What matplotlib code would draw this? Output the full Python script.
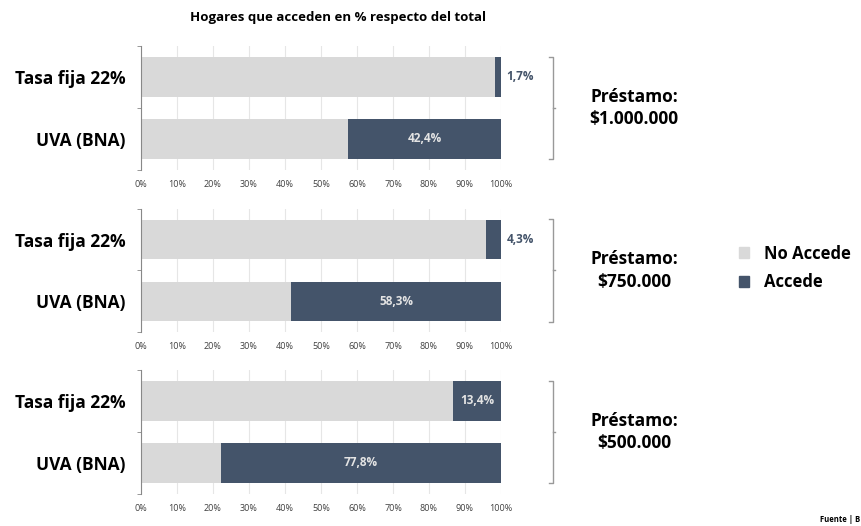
import numpy as np
import matplotlib
matplotlib.use("Agg")
import matplotlib.pyplot as plt
from matplotlib.patches import Patch
import matplotlib.transforms as mtransforms

plt.rcParams["font.family"] = ["Open Sans", "DejaVu Sans"]

# datos
prestamos = ["$1.000.000", "$750.000", "$500.000"]
categorias = ["Tasa fija 22%", "UVA (BNA)"]
no_accede = [[98.3, 57.6], [95.7, 41.7], [86.6, 22.2]]
accede = [[1.7, 42.4], [4.3, 58.3], [13.4, 77.8]]
etiquetas = [["1,7%", "42,4%"], ["4,3%", "58,3%"], ["13,4%", "77,8%"]]
xticks = np.arange(0, 101, 10)

GRIS = "#D9D9D9"
AZUL = "#44546A"
W, H = 861, 526

fig = plt.figure(figsize=(W / 100, H / 100), dpi=100)

# posiciones de los paneles en pixeles (top, bottom)
paneles = [(46, 170), (209, 332), (370, 494)]
x0, x1 = 141, 501

for i, (top, bot) in enumerate(paneles):
    ax = fig.add_axes([x0 / W, 1 - bot / H, (x1 - x0) / W, (bot - top) / H])
    y = np.arange(len(categorias))
    ax.barh(y, no_accede[i], height=0.64, color=GRIS, zorder=2)
    ax.barh(y, accede[i], left=no_accede[i], height=0.64, color=AZUL, zorder=2)

    for j in range(len(categorias)):
        v = accede[i][j]
        if v < 10:
            ax.text(100 + 1.5, j, etiquetas[i][j], ha="left", va="center",
                    fontsize=8.5, fontweight="bold", color=AZUL)
        else:
            ax.text(no_accede[i][j] + v / 2, j, etiquetas[i][j], ha="center",
                    va="center", fontsize=8.5, fontweight="bold", color="#E4E4E4")

    ax.set_xlim(0, 100)
    ax.set_ylim(1.5, -0.5)
    ax.set_xticks(xticks)
    ax.set_xticklabels([f"{t}%" for t in xticks], fontsize=6.5, color="#404040")
    ax.tick_params(axis="x", length=0, pad=7)
    ax.set_yticks(y)
    ax.set_yticklabels(categorias, fontsize=12.5, fontweight="bold")
    ax.tick_params(axis="y", length=0, pad=11)
    ax.set_yticks([-0.5, 0.5, 1.5], minor=True)
    ax.tick_params(axis="y", which="minor", length=3, color="#888888")
    ax.grid(axis="x", color="#E6E6E6", linewidth=0.8, zorder=0)
    for s in ["top", "right", "bottom"]:
        ax.spines[s].set_visible(False)
    ax.spines["left"].set_color("#888888")

    # llave a la derecha
    tr = mtransforms.blended_transform_factory(ax.transAxes, ax.transData)
    bx = (553 - x0) / (x1 - x0)
    dx = 4 / (x1 - x0)
    ax.plot([bx - dx, bx, bx, bx - dx], [-0.33, -0.33, 1.33, 1.33], transform=tr,
            color="#999999", linewidth=1, clip_on=False)
    ax.plot([bx, bx + dx * 0.6], [0.5, 0.5], transform=tr, color="#999999",
            linewidth=1, clip_on=False)
    ax.text((634 - x0) / (x1 - x0), 0.5, f"Préstamo:\n{prestamos[i]}", transform=tr,
            ha="center", va="center", fontsize=12.5, fontweight="bold",
            linespacing=1.3)

fig.text(338 / W, 1 - 18 / H, "Hogares que acceden en % respecto del total",
         ha="center", va="center", fontsize=9.5, fontweight="bold")

handles = [Patch(color=GRIS, label="No Accede"), Patch(color=AZUL, label="Accede")]
fig.legend(handles=handles, loc="center left", bbox_to_anchor=(724 / W, 1 - 268 / H),
           frameon=False, prop={"size": 12, "weight": "bold"}, handlelength=0.6,
           handleheight=0.6, handletextpad=0.9, labelspacing=0.65)

fig.text(860 / W, 1 - 520 / H, "Fuente | B", ha="right", va="center",
         fontsize=5.5, fontweight="bold")

fig.savefig("out.png", dpi=100)
